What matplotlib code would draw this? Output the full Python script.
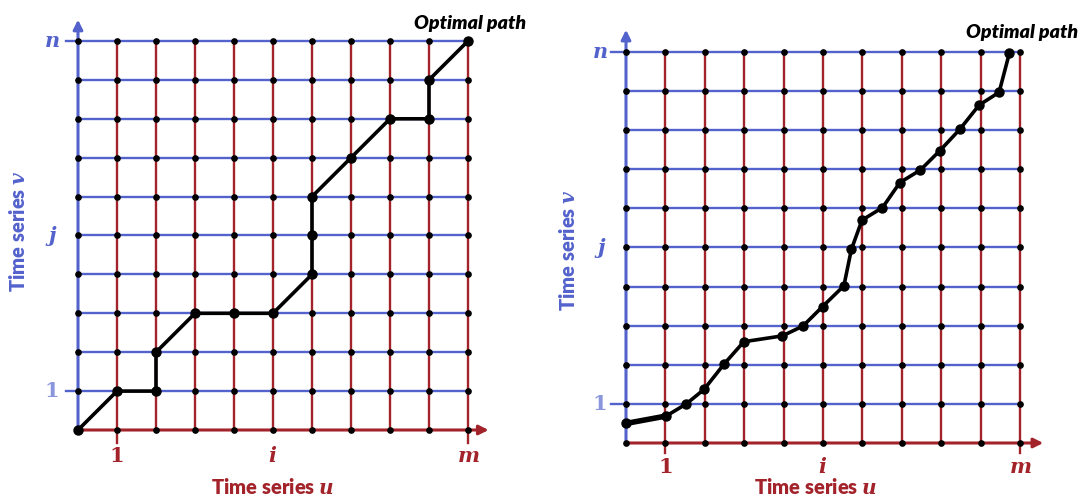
import matplotlib
matplotlib.use("Agg")
import matplotlib.pyplot as plt

plt.rcParams['mathtext.fontset'] = 'dejavuserif'

RED = "#a3232b"
BLUE = "#5462cc"
LBLUE = "#8a95dc"

n_cells = 10
x_ticks = [1, 5, 10]
x_tick_labels = ["1", "i", "m"]
y_ticks = [1, 5, 10]
y_tick_labels = ["1", "j", "n"]

# left: path along grid nodes
left_path_x = [0, 1, 2, 2, 3, 4, 5, 6, 6, 6, 7, 8, 9, 9, 10]
left_path_y = [0, 1, 1, 2, 3, 3, 3, 4, 5, 6, 7, 8, 8, 9, 10]

# right: free path
right_path_x = [0, 1.02, 1.53, 1.98, 2.49, 2.99, 3.97, 4.49, 4.99, 5.53,
                5.72, 5.99, 6.51, 6.95, 7.47, 7.96, 8.47, 8.96, 9.47, 9.73]
right_path_y = [0.50, 0.69, 1.0, 1.37, 2.02, 2.59, 2.74, 2.99, 3.49, 4.02,
                4.95, 5.70, 6.02, 6.66, 6.98, 7.47, 8.02, 8.64, 8.97, 9.97]


def draw_panel(ax, px, py, arrow_x, arrow_y, tick_len_x, tick_len_y,
               ylab_x, ylab_y, xlab_x, xlab_y, xtick_y, ytick_x, opt_xy, thick_first):
    N = n_cells
    for r in range(1, N + 1):
        x0 = tick_len_y if r in (1, N) else 0
        ax.plot([x0, N], [r, r], color=BLUE, lw=1.7, zorder=1)
    for c in range(1, N + 1):
        y0 = tick_len_x if c in (1, N) else 0
        ax.plot([c, c], [y0, N], color=RED, lw=1.7, zorder=2)
    # axes with arrows
    ax.annotate("", xy=(0, arrow_y), xytext=(0, 0),
                arrowprops=dict(arrowstyle="-|>", color=BLUE, lw=2.2, mutation_scale=14), zorder=3)
    ax.annotate("", xy=(arrow_x, 0), xytext=(0, 0),
                arrowprops=dict(arrowstyle="-|>", color=RED, lw=2.2, mutation_scale=14), zorder=3)
    # nodes
    gx = [i for i in range(N + 1) for j in range(N + 1)]
    gy = [j for i in range(N + 1) for j in range(N + 1)]
    ax.plot(gx, gy, "o", color="black", ms=3.8, ls="none", zorder=4)
    # path
    ax.plot(px, py, "-o", color="black", lw=2.6, ms=6.5, zorder=5)
    if thick_first:
        ax.plot(px[:2], py[:2], "-", color="black", lw=4, zorder=5)
    # tick labels
    for t, lab in zip(x_ticks, x_tick_labels):
        txt = lab if lab == "1" else r"$\mathbfit{%s}$" % lab
        ax.text(t, xtick_y, txt, color=RED, fontsize=15, fontweight="bold",
                family="DejaVu Serif", ha="center", va="center")
    for t, lab in zip(y_ticks, y_tick_labels):
        txt = lab if lab == "1" else r"$\mathbfit{%s}$" % lab
        col = LBLUE if lab == "1" else BLUE
        ax.text(ytick_x, t, txt, color=col, fontsize=15, fontweight="bold",
                family="DejaVu Serif", ha="center", va="center")
    ax.text(xlab_x, xlab_y, r"Time series $\mathbfit{u}$", color=RED, fontsize=14.5,
            fontweight="heavy", family="Lato", ha="center", va="center")
    ax.text(ylab_x, ylab_y, r"Time series $\mathbfit{v}$", color=BLUE, fontsize=14.5,
            fontweight="heavy", family="Lato", ha="center", va="center", rotation=90)
    ax.text(opt_xy[0], opt_xy[1], "Optimal path", color="black", fontsize=14,
            fontweight="heavy", fontstyle="italic", family="Lato", ha="center", va="center")
    ax.axis("off")


fig = plt.figure(figsize=(10.9, 4.98), dpi=100)

# left panel: origin at px (78, 430 from top), 39 px per cell
axL = fig.add_axes([0, 0, 546 / 1090, 1])
axL.set_xlim(-2, 12)
axL.set_ylim(-68 / 38.9, 430 / 38.9)
draw_panel(axL, left_path_x, left_path_y, arrow_x=10.6, arrow_y=10.62,
           tick_len_x=-0.33, tick_len_y=-0.3, ylab_x=-1.54, ylab_y=5.1,
           xlab_x=5, xlab_y=-1.47, xtick_y=-0.66, ytick_x=-0.67,
           opt_xy=(10.05, 10.45), thick_first=False)

# right panel: origin at px (626, 443 from top), 39.4 x 39.1 px per cell
axR = fig.add_axes([546 / 1090, 0, 544 / 1090, 1])
axR.set_xlim((546 - 626) / 39.4, (1090 - 626) / 39.4)
axR.set_ylim(-55 / 39.1, 443 / 39.1)
draw_panel(axR, right_path_x, right_path_y, arrow_x=10.66, arrow_y=10.64,
           tick_len_x=-0.26, tick_len_y=-0.39, ylab_x=-1.47, ylab_y=4.94,
           xlab_x=4.8, xlab_y=-1.13, xtick_y=-0.62, ytick_x=-0.66,
           opt_xy=(10.05, 10.51), thick_first=True)

fig.savefig("out.png", dpi=100)
